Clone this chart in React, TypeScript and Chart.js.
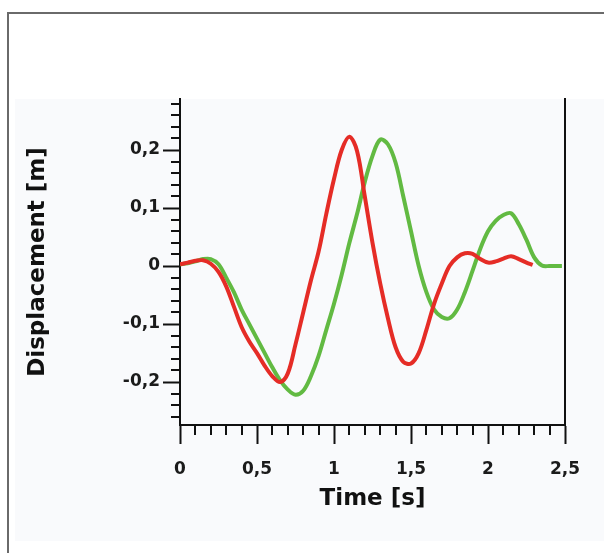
import React, { useEffect, useRef } from 'react';
import { Chart, registerables } from 'chart.js';

Chart.register(...registerables);

// ---- Data ----
const greenTime = [0, 0.05, 0.1, 0.15, 0.2, 0.25, 0.3, 0.35, 0.4, 0.45, 0.5, 0.55, 0.6, 0.65, 0.7, 0.75, 0.8, 0.85, 0.9, 0.95, 1.0, 1.05, 1.1, 1.15, 1.2, 1.25, 1.3, 1.35, 1.4, 1.45, 1.5, 1.55, 1.6, 1.65, 1.7, 1.75, 1.8, 1.85, 1.9, 1.95, 2.0, 2.05, 2.1, 2.15, 2.2, 2.25, 2.3, 2.35, 2.4, 2.45, 2.48];
const greenDisp = [0.003, 0.005, 0.008, 0.012, 0.012, 0.003, -0.02, -0.045, -0.075, -0.1, -0.125, -0.15, -0.175, -0.197, -0.213, -0.222, -0.215, -0.19, -0.155, -0.11, -0.065, -0.015, 0.04, 0.09, 0.145, 0.19, 0.218, 0.21, 0.178, 0.12, 0.06, 0.0, -0.045, -0.075, -0.088, -0.09, -0.075, -0.045, -0.008, 0.03, 0.06, 0.078, 0.088, 0.091, 0.072, 0.045, 0.015, 0.001, 0.0, 0.0, 0.0];

const redTime = [0, 0.05, 0.1, 0.15, 0.2, 0.25, 0.3, 0.35, 0.4, 0.45, 0.5, 0.55, 0.6, 0.65, 0.7, 0.75, 0.8, 0.85, 0.9, 0.95, 1.0, 1.05, 1.1, 1.15, 1.2, 1.25, 1.3, 1.35, 1.4, 1.45, 1.5, 1.55, 1.6, 1.65, 1.7, 1.75, 1.8, 1.85, 1.9, 1.95, 2.0, 2.05, 2.1, 2.15, 2.2, 2.25, 2.29];
const redDisp = [0.003, 0.006, 0.009, 0.01, 0.004, -0.01, -0.035, -0.07, -0.105, -0.13, -0.15, -0.172, -0.19, -0.2, -0.185, -0.135, -0.08, -0.025, 0.025, 0.09, 0.15, 0.2, 0.223, 0.198, 0.12, 0.04, -0.03, -0.09, -0.14, -0.165, -0.168, -0.15, -0.11, -0.065, -0.03, 0.0, 0.015, 0.022, 0.021, 0.012, 0.006, 0.008, 0.013, 0.017, 0.012, 0.006, 0.002];

// ---- Ticks ----
const xTickValues = [0, 0.1, 0.2, 0.3, 0.4, 0.5, 0.6, 0.7, 0.8, 0.9, 1.0, 1.1, 1.2, 1.3, 1.4, 1.5, 1.6, 1.7, 1.8, 1.9, 2.0, 2.1, 2.2, 2.3, 2.4, 2.5];
const xMajorValues = [0, 0.5, 1, 1.5, 2, 2.5];
const xTickLabels = ['0', '0,5', '1', '1,5', '2', '2,5'];

const yTickValues = [-0.26, -0.24, -0.22, -0.2, -0.18, -0.16, -0.14, -0.12, -0.1, -0.08, -0.06, -0.04, -0.02, 0, 0.02, 0.04, 0.06, 0.08, 0.1, 0.12, 0.14, 0.16, 0.18, 0.2, 0.22, 0.24, 0.26, 0.28];
const yMajorValues = [-0.2, -0.1, 0, 0.1, 0.2];
const yTickLabels = ['-0,2', '-0,1', '0', '0,1', '0,2'];

const X_MIN = 0;
const X_MAX = 2.5;
const Y_MIN = -0.274;
const Y_MAX = 0.288;

const AXIS_COLOR = '#111111';
const TEXT_COLOR = '#1b1b1b';
const RED = 'rgb(229, 44, 38)';
const GREEN = 'rgb(98, 186, 66)';
const FONT_FAMILY = '"DejaVu Sans", Verdana, sans-serif';

const X_MAJOR_LEN = 19;
const X_MINOR_LEN = 10;
const Y_MAJOR_LEN = 17;
const Y_MINOR_LEN = 9;

function majorIndex(list: number[], v: number): number {
  for (let i = 0; i < list.length; i++) {
    if (Math.abs(list[i] - v) < 1e-6) return i;
  }
  return -1;
}

const minorTicksPlugin = {
  id: 'minorTicks',
  afterDraw(chart: any) {
    const { ctx } = chart;
    const xs = chart.scales.x;
    const ys = chart.scales.y;
    ctx.save();
    ctx.strokeStyle = AXIS_COLOR;
    ctx.lineWidth = 2;
    ctx.beginPath();
    for (const t of xs.ticks) {
      if (majorIndex(xMajorValues, t.value) >= 0) continue;
      const px = Math.round(xs.getPixelForValue(t.value));
      ctx.moveTo(px, ys.bottom);
      ctx.lineTo(px, ys.bottom + X_MINOR_LEN);
    }
    for (const t of ys.ticks) {
      if (majorIndex(yMajorValues, t.value) >= 0) continue;
      const py = Math.round(ys.getPixelForValue(t.value));
      ctx.moveTo(xs.left, py);
      ctx.lineTo(xs.left - Y_MINOR_LEN, py);
    }
    ctx.stroke();
    ctx.restore();
  },
};

export default function App() {
  const canvasRef = useRef<HTMLCanvasElement | null>(null);

  useEffect(() => {
    const canvas = canvasRef.current;
    if (!canvas) return;
    const chart = new Chart(canvas, {
      type: 'line',
      data: {
        datasets: [
          {
            label: 'Red',
            data: redTime.map((t, i) => ({ x: t, y: redDisp[i] })),
            borderColor: RED,
            backgroundColor: RED,
            borderWidth: 4,
            pointRadius: 0,
            tension: 0.35,
            fill: false,
          },
          {
            label: 'Green',
            data: greenTime.map((t, i) => ({ x: t, y: greenDisp[i] })),
            borderColor: GREEN,
            backgroundColor: GREEN,
            borderWidth: 4,
            pointRadius: 0,
            tension: 0.35,
            fill: false,
          },
        ],
      },
      plugins: [minorTicksPlugin],
      options: {
        animation: false,
        responsive: false,
        devicePixelRatio: 1,
        layout: { padding: { left: 0, top: 99, right: 39, bottom: 28 } },
        plugins: {
          legend: { display: false },
          tooltip: { enabled: false },
          title: { display: false },
        },
        scales: {
          x: {
            type: 'linear',
            position: 'bottom',
            min: X_MIN,
            max: X_MAX,
            afterBuildTicks: (s: any) => {
              s.ticks = xTickValues.map((v) => ({ value: v }));
            },
            afterFit: (s: any) => {
              s.height = 100;
            },
            grid: {
              display: true,
              drawOnChartArea: false,
              drawTicks: true,
              tickLength: X_MAJOR_LEN,
              tickWidth: 2,
              tickColor: (c: any) =>
                c.tick && majorIndex(xMajorValues, c.tick.value) >= 0 ? AXIS_COLOR : 'rgba(0,0,0,0)',
            },
            border: { display: true, color: AXIS_COLOR, width: 2 },
            ticks: {
              autoSkip: false,
              maxRotation: 0,
              padding: 15,
              color: TEXT_COLOR,
              font: { family: FONT_FAMILY, weight: 'bold', size: 17 },
              callback: (v: any) => {
                const i = majorIndex(xMajorValues, Number(v));
                return i >= 0 ? xTickLabels[i] : '';
              },
            },
            title: {
              display: true,
              text: 'Time [s]',
              color: AXIS_COLOR,
              font: { family: FONT_FAMILY, weight: 'bold', size: 23 },
              padding: { top: 0, bottom: 12 },
            },
          },
          y: {
            type: 'linear',
            position: 'left',
            min: Y_MIN,
            max: Y_MAX,
            afterBuildTicks: (s: any) => {
              s.ticks = yTickValues.map((v) => ({ value: v }));
            },
            afterFit: (s: any) => {
              s.width = 180;
            },
            grid: {
              display: true,
              drawOnChartArea: false,
              drawTicks: true,
              tickLength: Y_MAJOR_LEN,
              tickWidth: 2,
              tickColor: (c: any) =>
                c.tick && majorIndex(yMajorValues, c.tick.value) >= 0 ? AXIS_COLOR : 'rgba(0,0,0,0)',
            },
            border: { display: true, color: AXIS_COLOR, width: 2 },
            ticks: {
              autoSkip: false,
              padding: 3,
              color: TEXT_COLOR,
              font: { family: FONT_FAMILY, weight: 'bold', size: 17 },
              callback: (v: any) => {
                const i = majorIndex(yMajorValues, Number(v));
                return i >= 0 ? yTickLabels[i] : '';
              },
            },
            title: {
              display: true,
              text: 'Displacement [m]',
              color: AXIS_COLOR,
              font: { family: FONT_FAMILY, weight: 'bold', size: 23 },
              padding: { top: 24, bottom: 0 },
            },
          },
          yRight: {
            type: 'linear',
            position: 'right',
            min: Y_MIN,
            max: Y_MAX,
            display: true,
            afterFit: (s: any) => {
              s.width = 0;
            },
            grid: { display: true, drawOnChartArea: false, drawTicks: false },
            border: { display: true, color: AXIS_COLOR, width: 2 },
            ticks: { display: false },
          },
        },
      } as any,
    });
    return () => {
      chart.destroy();
    };
  }, []);

  return (
    <div style={{ position: 'absolute', left: 0, top: 0, width: 604, height: 553, background: '#ffffff', overflow: 'hidden' }}>
      <div
        style={{
          position: 'absolute',
          left: 7,
          top: 12,
          width: 620,
          height: 600,
          borderLeft: '2px solid #6a6a6a',
          borderTop: '2px solid #6a6a6a',
          boxSizing: 'border-box',
        }}
      />
      <div
        style={{
          position: 'absolute',
          left: 15,
          top: 99,
          width: 589,
          height: 442,
          background: '#f9fafc',
        }}
      />
      <canvas
        ref={canvasRef}
        width={604}
        height={553}
        style={{ position: 'absolute', left: 0, top: 0, width: 604, height: 553 }}
      />
    </div>
  );
}
